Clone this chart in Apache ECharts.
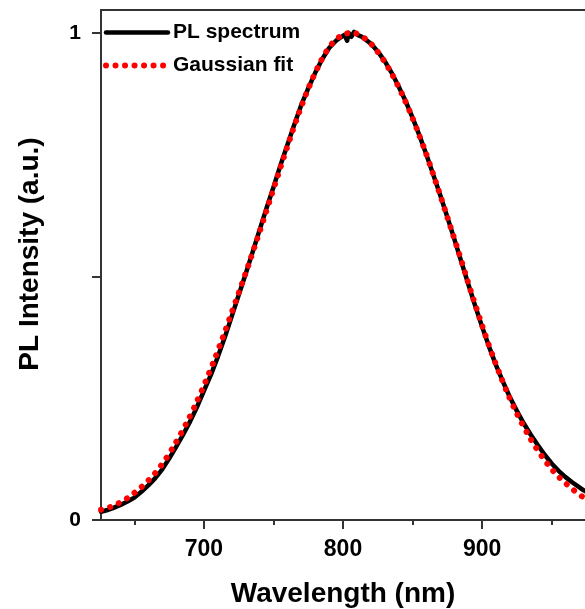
<!DOCTYPE html>
<html>
<head>
<meta charset="utf-8">
<script src="https://cdn.jsdelivr.net/npm/echarts@6/dist/echarts.min.js"></script>
<style>
  html, body { margin: 0; padding: 0; background: #fff; }
  #chart { width: 585px; height: 609px; }
</style>
</head>
<body>
<div id="chart"></div>
<script>
// Wavelength (nm) / normalized intensity
const plWavelength = [626, 630, 635, 640, 645, 650, 655, 660, 665, 670, 675, 680, 685, 690, 695,
  700, 705, 710, 715, 720, 725, 730, 735, 740, 745, 750, 755, 760, 765, 770, 775, 780, 785, 790,
  795, 798, 801, 803, 804, 806, 808, 811, 813, 815, 820, 825, 830, 835, 840, 845, 850, 855, 860,
  865, 870, 875, 880, 885, 890, 895, 900, 905, 910, 915, 920, 925, 930, 935, 940, 945, 950, 955,
  960, 965, 970, 973, 976];
const plIntensity = [0.017, 0.020, 0.025, 0.031, 0.038, 0.046, 0.058, 0.071, 0.086, 0.104, 0.126, 0.150, 0.175, 0.202, 0.232,
  0.265, 0.298, 0.335, 0.375, 0.418, 0.462, 0.505, 0.550, 0.595, 0.640, 0.683, 0.728, 0.770, 0.812, 0.852, 0.886, 0.918, 0.946, 0.969,
  0.984, 0.990, 0.996, 0.984, 1.000, 0.992, 1.002, 0.995, 0.993, 0.989, 0.978, 0.962, 0.942, 0.918, 0.890, 0.860, 0.826, 0.789, 0.750,
  0.708, 0.666, 0.622, 0.577, 0.531, 0.485, 0.440, 0.397, 0.356, 0.318, 0.284, 0.252, 0.224, 0.198, 0.175, 0.154, 0.134, 0.116, 0.101,
  0.088, 0.077, 0.067, 0.061, 0.057];

const fitWavelength = [626, 631, 636, 641, 646, 651, 656, 661, 666, 671, 676, 681, 686, 691, 696,
  701, 706, 711, 716, 721, 726, 731, 736, 741, 746, 751, 756, 761, 766, 771, 776, 781, 786, 791,
  796, 801, 806, 811, 816, 821, 826, 831, 836, 841, 846, 851, 856, 861, 866, 871, 876, 881, 886,
  891, 896, 901, 906, 911, 916, 921, 926, 931, 936, 941, 946, 951, 956, 961, 966, 971, 974, 977];
const fitIntensity = [0.021, 0.025, 0.031, 0.038, 0.047, 0.058, 0.070, 0.084, 0.100, 0.119, 0.141, 0.165, 0.191, 0.219, 0.250,
  0.283, 0.318, 0.355, 0.394, 0.434, 0.474, 0.515, 0.557, 0.600, 0.644, 0.688, 0.732, 0.775, 0.817, 0.856, 0.892, 0.924, 0.952, 0.974,
  0.989, 0.997, 1.000, 0.997, 0.988, 0.975, 0.957, 0.936, 0.911, 0.883, 0.852, 0.818, 0.781, 0.742, 0.700, 0.657, 0.613, 0.569, 0.524,
  0.478, 0.434, 0.391, 0.350, 0.312, 0.276, 0.243, 0.213, 0.186, 0.161, 0.139, 0.119, 0.101, 0.086, 0.073, 0.061, 0.050, 0.045, 0.040];

const xMajorTicks = [700, 800, 900];
const xMinorTicks = [650, 750, 850, 950];
const yTicks = [0, 0.5, 1];
const yLabels = [0, 1];
const seriesNames = ['PL spectrum', 'Gaussian fit'];

const FONT = 'Liberation Sans, Arial, sans-serif';
const axisColor = '#333';
const plLine = { color: '#000', width: 4.5, join: 'round', cap: 'round' };
const fitLine = { color: '#ff0000', width: 6, type: [0.01, 9.5], cap: 'round' };

const pairs = (xs, ys) => xs.map((x, i) => [x, ys[i]]);

const chart = echarts.init(document.getElementById('chart'), null, { renderer: 'canvas' });
chart.setOption({
  animation: false,
  backgroundColor: '#fff',
  grid: { left: 101, top: 10, right: 0, bottom: 89, containLabel: false, outerBoundsMode: 'none' },
  legend: {
    orient: 'vertical',
    left: 103,
    top: 22,
    padding: 0,
    itemGap: 12,
    itemWidth: 62,
    itemHeight: 14,
    itemStyle: { opacity: 0 },
    textStyle: { fontFamily: FONT, fontSize: 21, fontWeight: 'bold', color: '#000' },
    data: [
      { name: seriesNames[0], lineStyle: plLine },
      { name: seriesNames[1], lineStyle: fitLine }
    ]
  },
  xAxis: [
    {
      type: 'value', position: 'bottom', min: 626, max: 974,
      axisLine: { show: true, onZero: false, lineStyle: { color: axisColor, width: 2 } },
      axisTick: { show: true, customValues: xMajorTicks, length: 9, lineStyle: { color: axisColor, width: 2 } },
      axisLabel: { show: true, customValues: xMajorTicks, fontFamily: FONT, fontSize: 23, fontWeight: 'bold', color: '#000', margin: 18 },
      splitLine: { show: false },
      name: 'Wavelength (nm)', nameLocation: 'middle', nameGap: 60,
      nameTextStyle: { fontFamily: FONT, fontSize: 28, fontWeight: 'bold', color: '#000' }
    },
    {
      type: 'value', position: 'bottom', min: 626, max: 974,
      axisLine: { show: false },
      axisTick: { show: true, customValues: xMinorTicks, length: 5, lineStyle: { color: axisColor, width: 2 } },
      axisLabel: { show: false },
      splitLine: { show: false }
    },
    {
      type: 'value', position: 'top', min: 626, max: 974,
      axisLine: { show: true, onZero: false, lineStyle: { color: axisColor, width: 2 } },
      axisTick: { show: false },
      axisLabel: { show: false },
      splitLine: { show: false }
    }
  ],
  yAxis: {
    type: 'value', min: 0, max: 1.047,
    axisLine: { show: true, onZero: false, lineStyle: { color: axisColor, width: 2 } },
    axisTick: { show: true, customValues: yTicks, length: 9, lineStyle: { color: axisColor, width: 2 } },
    axisLabel: { show: true, customValues: yLabels, fontFamily: FONT, fontSize: 21, fontWeight: 'bold', color: '#000', margin: 20 },
    splitLine: { show: false },
    name: 'PL Intensity (a.u.)', nameLocation: 'middle', nameGap: 57, nameRotate: 90,
    nameTextStyle: { fontFamily: FONT, fontSize: 28, fontWeight: 'bold', color: '#000', padding: [0, 0, 0, 22] }
  },
  series: [
    {
      name: seriesNames[0], type: 'line', xAxisIndex: 0, yAxisIndex: 0,
      data: pairs(plWavelength, plIntensity),
      showSymbol: false, symbol: 'none', smooth: false, clip: true,
      lineStyle: plLine,
      itemStyle: { color: '#000' },
      z: 2
    },
    {
      name: seriesNames[1], type: 'line', xAxisIndex: 0, yAxisIndex: 0,
      data: pairs(fitWavelength, fitIntensity),
      showSymbol: false, symbol: 'none', smooth: true, clip: true,
      lineStyle: fitLine,
      itemStyle: { color: '#ff0000' },
      z: 3
    }
  ]
});
</script>
</body>
</html>
